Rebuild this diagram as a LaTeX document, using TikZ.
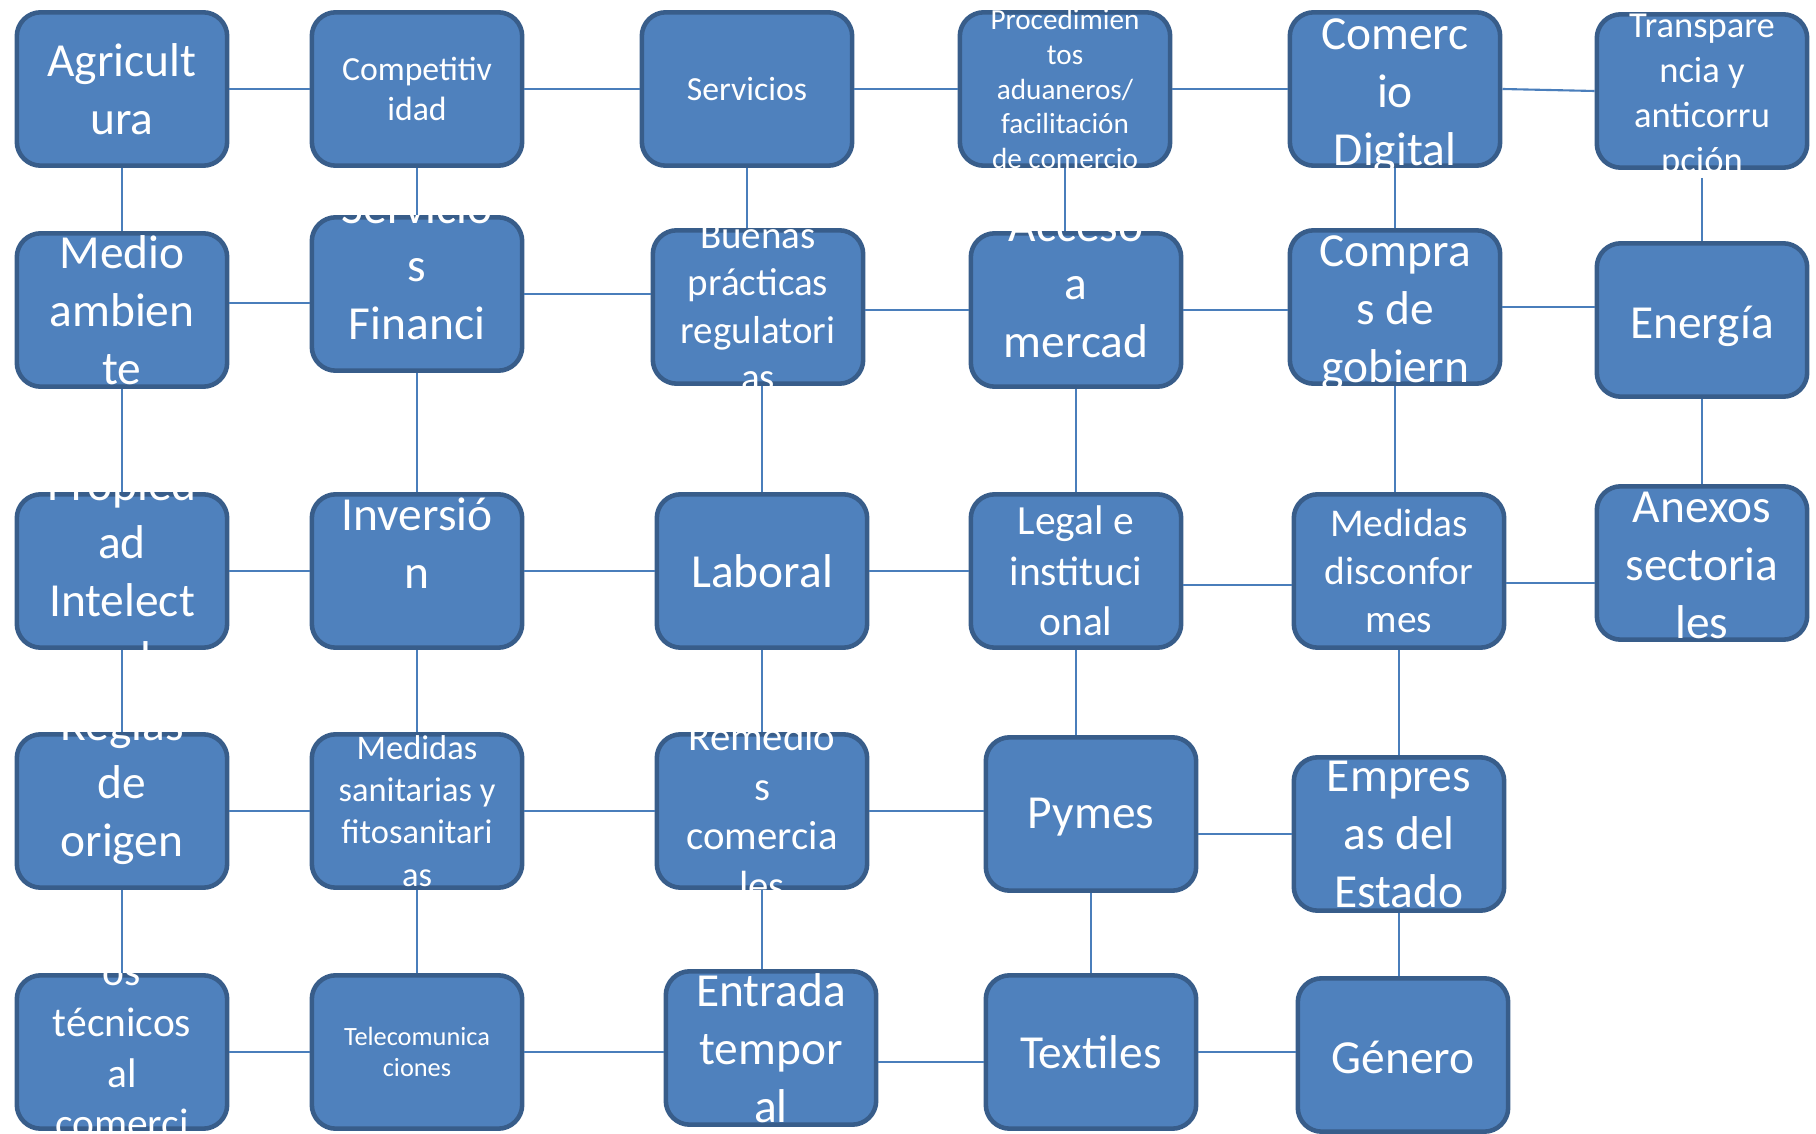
\documentclass[tikz,border=0pt]{standalone}
\usepackage{fontspec}
\setmainfont{Carlito}
\usetikzlibrary{calc}
\definecolor{azul}{HTML}{4F81BD}
\definecolor{borde}{HTML}{385D8A}
\definecolor{linea}{HTML}{4A7EBB}
\newcommand{\tam}[2]{\fontsize{#1}{#2}\selectfont}
\newcommand{\grande}{\tam{13.5}{16.5}}
\tikzset{
   caja/.style={draw=borde,fill=azul,line width=1.3pt,rounded corners=2.4mm,
      minimum width=21.04mm,minimum height=15.34mm,inner sep=0pt},
   texto/.style={text=white,align=center,inner sep=0pt},
   enlace/.style={draw=linea,line width=0.6pt}}
\newcommand{\caja}[5][0]{%
   \node[caja] (#2) at (#3) {};
   \begin{scope}
      \clip ($(#2.north west)+(-5,-7)$) rectangle ($(#2.south east)+(5,7)$);
      \node[texto,font=#4] at ($(#2.center)+(0,#1)$) {#5};
   \end{scope}}

\begin{document}
\begin{tikzpicture}[x=0.1mm,y=-0.1mm]
   \useasboundingbox (0,0) rectangle (1816,1134);
   \caja{agri}{122,89}{\grande}{Agricult\\ura}
   \caja{comp}{417,89}{\tam{9.6}{11.5}}{Competitiv\\idad}
   \caja{serv}{747,89}{\tam{9.6}{11.5}}{Servicios}
   \caja{proc}{1065,89}{\tam{8.3}{9.9}}{Procedimien\\tos\\aduaneros/\\facilitación\\de comercio}
   \caja[7]{cdig}{1395,89}{\grande}{Comerc\\io\\Digital}
   \caja[5]{trans}{1702,91}{\tam{10.4}{12.8}}{Transpare\\ncia y\\anticorru\\pción}
   \caja{medio}{122,310}{\grande}{Medio\\ambien\\te}
   \caja{sfin}{417,294}{\grande}{Servicio\\s\\Financi\\eros}
   \caja{buenas}{758,307}{\tam{11.1}{13.5}}{Buenas\\prácticas\\regulatori\\as}
   \caja[-26]{acceso}{1076,310}{\grande}{Acceso\\a\\mercad}
   \caja[6]{compras}{1395,307}{\grande}{Compra\\s de\\gobiern}
   \caja[6]{energ}{1702,320}{\grande}{Energía}
   \caja{propi}{122,571}{\grande}{Propied\\ad\\Intelect\\ual}
   \caja[-28]{inver}{417,571}{\grande}{Inversió\\n}
   \caja{labor}{762,571}{\grande}{Laboral}
   \caja{legal}{1076,571}{\tam{11.8}{14.3}}{Legal e\\instituci\\onal}
   \caja{mdis}{1399,571}{\tam{11.2}{13.7}}{Medidas\\disconfor\\mes}
   \caja[2]{anex}{1702,563}{\grande}{Anexos\\sectoria\\les}
   \caja[-25]{reglas}{122,811}{\grande}{Reglas\\de\\origen}
   \caja{msan}{417,811}{\tam{9.8}{12}}{Medidas\\sanitarias y\\fitosanitari\\as}
   \caja{remed}{762,811}{\tam{11.6}{14.2}}{Remedio\\s\\comercia\\les}
   \caja[3]{pymes}{1091,814}{\grande}{Pymes}
   \caja{empre}{1399,834}{\grande}{Empres\\as del\\Estado}
   \caja{obst}{122,1052}{\tam{11.8}{14.4}}{os\\técnicos\\al\\comerci}
   \caja{tele}{417,1052}{\tam{7.5}{8.9}}{Telecomunica\\ciones}
   \caja{entra}{771,1048}{\grande}{Entrada\\tempor\\al}
   \caja{texti}{1091,1052}{\grande}{Textiles}
   \caja[2]{gener}{1403,1055}{\grande}{Género}
   \draw[enlace] (agri.east) -- (comp.west);
   \draw[enlace] (comp.east) -- (serv.west);
   \draw[enlace] (serv.east) -- (proc.west);
   \draw[enlace] (proc.east) -- (cdig.west);
   \draw[enlace] (cdig.east) -- (trans.west);
   \draw[enlace] (agri.south) -- (medio.north);
   \draw[enlace] (comp.south) -- (sfin.north);
   \draw[enlace] (serv.south) -- (serv.south |- buenas.north);
   \draw[enlace] (proc.south) -- (proc.south |- acceso.north);
   \draw[enlace] (cdig.south) -- (compras.north);
   \draw[enlace,shorten <=0.8mm] (trans.south) -- (energ.north);
   \draw[enlace] ($(medio.east)+(0,-7)$) -- ($(sfin.west)+(0,9)$);
   \draw[enlace] (sfin.east) -- (sfin.east -| buenas.west);
   \draw[enlace] (acceso.west -| buenas.east) -- (acceso.west);
   \draw[enlace] (acceso.east) -- (acceso.east -| compras.west);
   \draw[enlace] (compras.east) -- (compras.east -| energ.west);
   \draw[enlace] (medio.south) -- (propi.north);
   \draw[enlace] (sfin.south) -- (inver.north);
   \draw[enlace] (labor.north |- buenas.south) -- (labor.north);
   \draw[enlace] (acceso.south) -- (legal.north);
   \draw[enlace] (compras.south) -- (compras.south |- mdis.north);
   \draw[enlace] (energ.south) -- (anex.north);
   \draw[enlace] (propi.east) -- (inver.west);
   \draw[enlace] (inver.east) -- (labor.west);
   \draw[enlace] (labor.east) -- (legal.west);
   \draw[enlace] ($(legal.east)+(0,14)$) -- ($(mdis.west)+(0,14)$);
   \draw[enlace] ($(mdis.east)+(0,12)$) -- ($(anex.west)+(0,20)$);
   \draw[enlace] (propi.south) -- (reglas.north);
   \draw[enlace] (inver.south) -- (msan.north);
   \draw[enlace] (labor.south) -- (remed.north);
   \draw[enlace] (legal.south) -- (legal.south |- pymes.north);
   \draw[enlace] (mdis.south) -- (empre.north);
   \draw[enlace] (reglas.east) -- (msan.west);
   \draw[enlace] (msan.east) -- (remed.west);
   \draw[enlace] (remed.east) -- (remed.east -| pymes.west);
   \draw[enlace] (pymes.east |- empre.west) -- (empre.west);
   \draw[enlace] (reglas.south) -- (obst.north);
   \draw[enlace] (msan.south) -- (tele.north);
   \draw[enlace] (remed.south) -- (remed.south |- entra.north);
   \draw[enlace] (pymes.south) -- (texti.north);
   \draw[enlace] (empre.south) -- (empre.south |- gener.north);
   \draw[enlace] (obst.east) -- (tele.west);
   \draw[enlace] (tele.east) -- (tele.east -| entra.west);
   \draw[enlace] ($(entra.east)+(0,14)$) -- ($(texti.west)+(0,10)$);
   \draw[enlace] (texti.east) -- (texti.east -| gener.west);
\end{tikzpicture}
\end{document}
